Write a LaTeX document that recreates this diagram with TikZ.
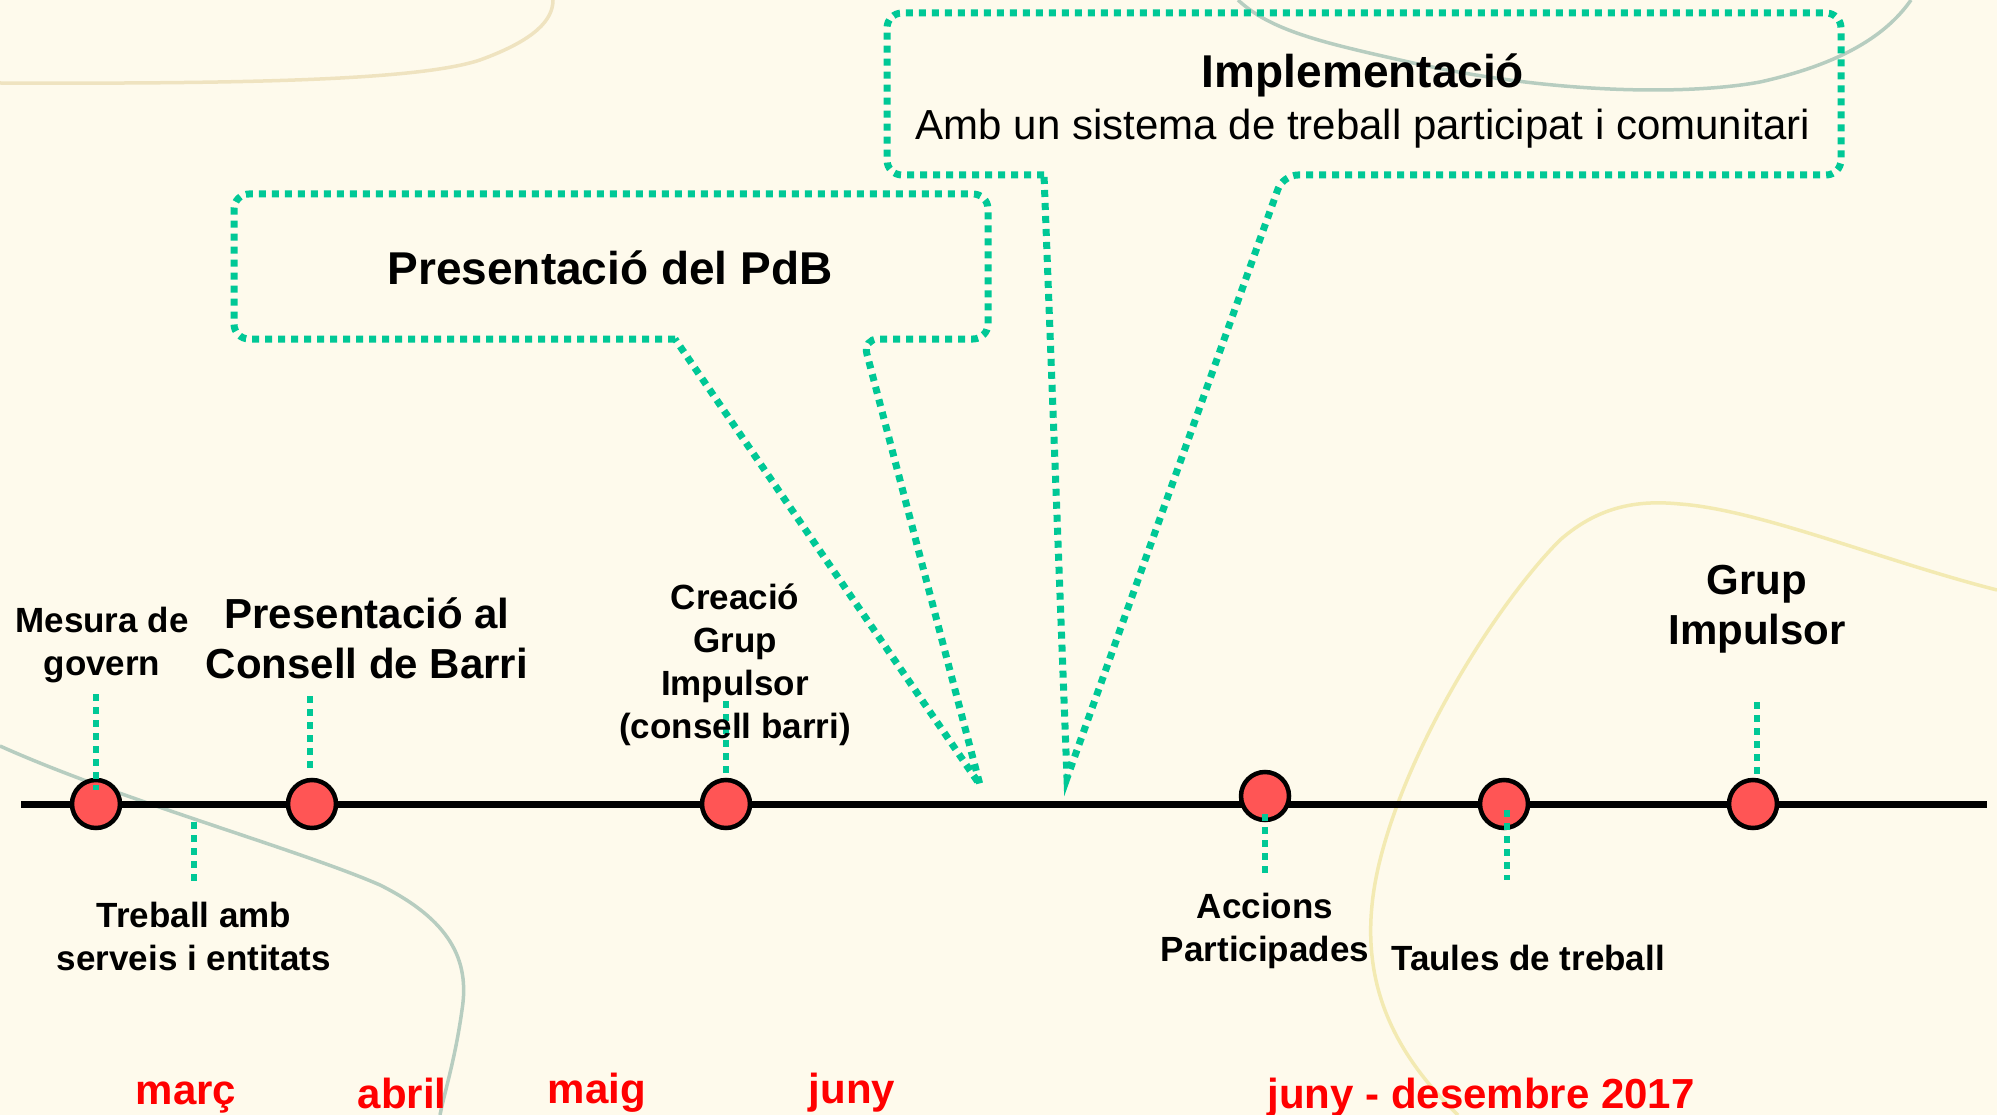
\documentclass[tikz,border=0pt]{standalone}
\usepackage{fontspec}
\setmainfont{Liberation Sans}
\definecolor{bgcol}{HTML}{FEFAEC}
\definecolor{teal1}{HTML}{00C896}
\definecolor{evred}{HTML}{FF5555}
\definecolor{monred}{HTML}{FF0000}
\definecolor{tancurve}{HTML}{EFE3C0}
\definecolor{greencurve}{HTML}{B7CDC0}
\definecolor{yelcurve}{HTML}{F3EAB2}
\begin{document}
\begin{tikzpicture}[x=1pt,y=-1pt,
  dot/.style={draw=teal1, line width=7pt, dash pattern=on 7pt off 6pt},
  tick/.style={draw=teal1, line width=6pt, dash pattern=on 7pt off 6pt},
  ev/.style={circle, draw=black, line width=4.5pt, fill=evred, minimum size=48pt, inner sep=0pt},
  lab/.style={font=\fontsize{35}{43}\selectfont\bfseries, align=center, text=black},
  biglab/.style={font=\fontsize{42}{50}\selectfont\bfseries, align=center, text=black},
  mon/.style={font=\fontsize{42}{50}\selectfont\bfseries, text=monred, text height=0.75em, text depth=0.2em},
  ttl/.style={font=\fontsize{46}{54}\selectfont\bfseries, text height=0.75em, text depth=0.2em},
  bgc/.style={line width=3.5pt}
]
\useasboundingbox (0,0) rectangle (1997,1115);
\fill[bgcol] (0,0) rectangle (1997,1115);
% background curves
\draw[bgc, tancurve] (0,83) .. controls (250,84) and (420,80) .. (480,60) .. controls (535,40) and (553,20) .. (553,0);
\draw[bgc, greencurve] (1238,0) .. controls (1270,30) and (1320,42) .. (1400,60) .. controls (1550,95) and (1690,95) .. (1760,82) .. controls (1850,62) and (1890,30) .. (1911,0);
\draw[bgc, greencurve] (0,746) .. controls (120,800) and (300,850) .. (380,885) .. controls (450,920) and (470,960) .. (462,1010) .. controls (455,1060) and (445,1090) .. (440,1115);
\draw[bgc, yelcurve] (1458,1115) .. controls (1380,1040) and (1355,960) .. (1380,860) .. controls (1410,740) and (1500,600) .. (1560,540) .. controls (1600,505) and (1640,500) .. (1680,504) .. controls (1760,510) and (1880,560) .. (1997,590);

% timeline
\coordinate (tl0) at (21,804);
\coordinate (tl1) at (1987,804);
\draw[line width=7pt, black] (tl0) -- (tl1);

% events
\node[ev] (c1) at (96,804) {};
\node[ev] (c2) at (312,804) {};
\node[ev] (c3) at (726,804) {};
\node[ev] (c4) at (1265,796) {};
\node[ev] (c5) at (1504,804) {};
\node[ev] (c6) at (1753,804) {};

% tick coordinates
\coordinate (a1) at (96,694);   \coordinate (b1) at (96,790);
\coordinate (a2) at (310,696);  \coordinate (b2) at (310,769);
\coordinate (a3) at (194,822);  \coordinate (b3) at (194,886);
\coordinate (a4) at (726,701);  \coordinate (b4) at (726,776);
\coordinate (a5) at (1265,814); \coordinate (b5) at (1265,876);
\coordinate (a6) at (1507,810); \coordinate (b6) at (1507,880);
\coordinate (a7) at (1757,702); \coordinate (b7) at (1757,775);
\foreach \i in {1,...,7} { \draw[tick] (a\i) -- (b\i); }

% labels
\node[lab] (mesura) at (102,645) {Mesura de\\govern};
\node[biglab] (presal) at (367,638) {Presentació al\\Consell de Barri};
\node[lab] (creacio) at (735,665) {Creació\\Grup\\Impulsor\\(consell barri)};
\node[lab] (treball) at (194,936) {Treball amb\\serveis i entitats};
\node[lab] (accions) at (1265,931) {Accions\\Participades};
\node[lab] (taules) at (1528,958) {Taules de treball};
\node[biglab] (grup) at (1757,609) {Grup\\Impulsor};

% months
\node[mon] (m1) at (186,1102) {març};
\node[mon] (m2) at (402,1106) {abril};
\node[mon] (m3) at (597,1101) {maig};
\node[mon] (m4) at (852,1101) {juny};
\node[mon] (m5) at (1481,1106) {juny - desembre 2017};

% callout 1
\coordinate (p1tip) at (980,785);
\draw[dot, rounded corners=15pt] (675,339) -- (234,339) -- (234,194) -- (988,194) -- (988,339) -- (863,339) [sharp corners] -- (p1tip) -- cycle;
\node[ttl] (pdb) at (610,282) {Presentació del PdB};

% callout 2
\coordinate (p2tip) at (1067,778);
\draw[dot, rounded corners=15pt] (1044,175) -- (887,175) -- (887,13) -- (1841,13) -- (1841,175) -- (1283,175) [sharp corners] -- (p2tip) -- cycle;
\node[ttl] (impl) at (1363,85) {Implementació};
\node[font=\fontsize{42}{50}\selectfont, text height=0.75em, text depth=0.2em] (implsub) at (1363,137) {Amb un sistema de treball participat i comunitari};
\end{tikzpicture}
\end{document}
